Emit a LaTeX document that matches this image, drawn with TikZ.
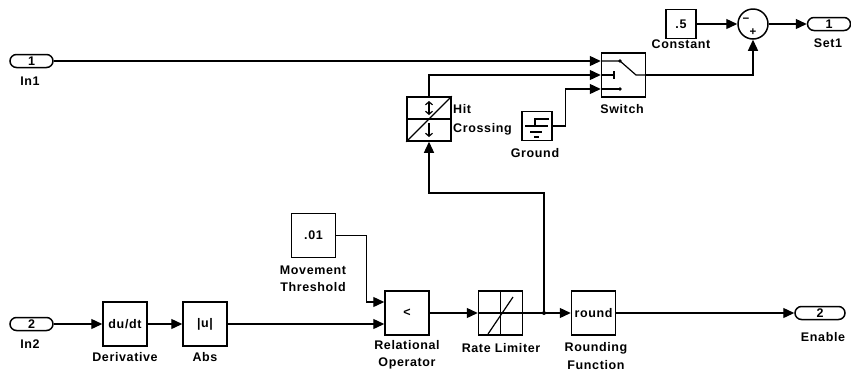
\documentclass[tikz,border=0pt]{standalone}
\usepackage{fontspec}
\setmainfont{Liberation Sans}[LetterSpace=5]
\usetikzlibrary{arrows.meta,calc}
\newcommand\blkFont{\fontsize{12.5}{17.5}\selectfont\bfseries}
\newcommand\signFont{\fontsize{11.5}{11.5}\selectfont\bfseries}

\begin{document}
\begin{tikzpicture}[x=1pt, y=-1pt, font=\blkFont,
  blockStyle/.style={rectangle, draw, line width=1.5pt, minimum width=44pt, minimum height=44pt, inner sep=0pt},
  smallStyle/.style={blockStyle, minimum width=30pt, minimum height=29pt},
  portStyle/.style={rectangle, draw, rounded corners=6.5pt, line width=1.5pt, minimum width=43pt, minimum height=13pt, inner sep=0pt},
  labelStyle/.style={align=center, inner sep=0pt},
  wireStyle/.style={line width=1.3pt},
  sigStyle/.style={wireStyle, -{Triangle[length=11pt,width=10pt]}},
  iconStyle/.style={line width=1.2pt}]

\useasboundingbox (0,0) rectangle (851,373);

% upper part
\node[portStyle]  (in1)   at ( 31.5, 61) {1};
\node[labelStyle] (in1_L) at ( 30,   81) {In1};

\node[blockStyle] (hit)   at (429, 119) {};
\node[labelStyle, anchor=west] (hit_L1) at (453, 109) {Hit};
\node[labelStyle, anchor=west] (hit_L2) at (453, 129) {Crossing};

\node[smallStyle] (gnd)   at (537, 126) {};
\node[labelStyle] (gnd_L) at (535, 153) {Ground};

\node[blockStyle] (sw)    at (623.5, 75) {};
\node[labelStyle] (sw_L)  at (622, 109) {Switch};

\node[smallStyle] (cst)   at (681, 24) {.5};
\node[labelStyle] (cst_L) at (681, 44) {Constant};

\node[circle, draw, line width=1.5pt, minimum size=30pt, inner sep=0pt] (sum) at (753, 24) {};
\node[font=\signFont, inner sep=0pt] (sum_m) at (746, 20) {−};
\node[font=\signFont, inner sep=0pt] (sum_p) at (753, 32) {+};

\node[portStyle]  (set1)   at (829, 24) {1};
\node[labelStyle] (set1_L) at (828, 43) {Set1};

% lower part
\node[portStyle]  (in2)   at ( 31.5, 324) {2};
\node[labelStyle] (in2_L) at ( 30,   344) {In2};

\node[blockStyle] (der)   at (125, 324) {du/dt};
\node[labelStyle] (der_L) at (125, 357) {Derivative};

\node[blockStyle] (abs)   at (205, 324) {|u|};
\node[labelStyle] (abs_L) at (205, 357) {Abs};

\node[blockStyle] (thr)   at (313.5, 235.5) {.01};
\node[labelStyle] (thr_L) at (313, 279) {Movement\\Threshold};

\node[blockStyle] (rel)   at (407, 313) {<};
\node[labelStyle] (rel_L) at (407, 355) {Relational\\Operator};

\node[blockStyle] (rlim)   at (500.5, 313) {};
\node[labelStyle] (rlim_L) at (501, 348) {Rate Limiter};

\node[blockStyle] (rnd)   at (593.5, 313) {round};
\node[labelStyle] (rnd_L) at (596, 356) {Rounding\\Function};

\node[portStyle, minimum width=50pt] (ena) at (820, 313) {2};
\node[labelStyle] (ena_L) at (823, 337) {Enable};

% block icons
\draw[iconStyle] (hit.south west) -- (hit.north east);
\draw[iconStyle] (hit.west) -- (hit.east);
\draw[iconStyle, {Straight Barb[length=3pt,width=7pt]}-{Straight Barb[length=3pt,width=7pt]}] (429,115) -- (429,101);
\draw[iconStyle, -{Straight Barb[length=3pt,width=7pt]}] (429,123) -- (429,137);

\draw[iconStyle] (549,119) -- (535,119) -- (535,126);
\draw[iconStyle] (525,126) -- (548,126);
\draw[line width=2pt] (530,132) -- (542,132);
\draw[iconStyle] (534,137) -- (539,137);

\draw[iconStyle] (601,61) -- (620,61) -- (636,75) -- (646,75);
\fill (620,61) circle (1.8pt);
\draw[iconStyle] (601,75) -- (614,75);
\draw[iconStyle] (614,71) -- (614,79);
\draw[iconStyle] (601,89) -- (620,89);
\fill (620,89) circle (1.8pt);

\draw[iconStyle] (rlim.north) -- (rlim.south);
\draw[iconStyle] (rlim.west) -- (rlim.east);
\draw[iconStyle] (488,334) -- (513,297);

% port points
\coordinate (swIn1) at ($(sw.west)+(0,-14)$);
\coordinate (swIn2) at (sw.west);
\coordinate (swIn3) at ($(sw.west)+(0,14)$);
\coordinate (relIn1) at ($(rel.west)+(0,-11)$);
\coordinate (relIn2) at ($(rel.west)+(0,11)$);
\coordinate (br) at (544, 313);
\coordinate (brTop) at (544, 193);

% signals
\draw[sigStyle] (in1.east) -- (swIn1);
\draw[sigStyle] (hit.north) |- (swIn2);
\draw[sigStyle] (gnd.east) -- ++(13,0) |- (swIn3);
\draw[sigStyle] (sw.east) -| (sum.south);
\draw[sigStyle] (cst.east) -- (sum.west);
\draw[sigStyle] (sum.east) -- (set1.west);

\draw[sigStyle] (in2.east) -- (der.west);
\draw[sigStyle] (der.east) -- (abs.west);
\draw[sigStyle] (abs.east) -- (relIn2);
\draw[sigStyle] (thr.east) -- ++(30,0) |- (relIn1);
\draw[sigStyle] (rel.east) -- (rlim.west);
\draw[sigStyle] (rlim.east) -- (rnd.west);
\fill (br) circle (2pt);
\draw[sigStyle] (br) -- (brTop) -| (hit.south);
\draw[sigStyle] (rnd.east) -- (ena.west);
\end{tikzpicture}
\end{document}
